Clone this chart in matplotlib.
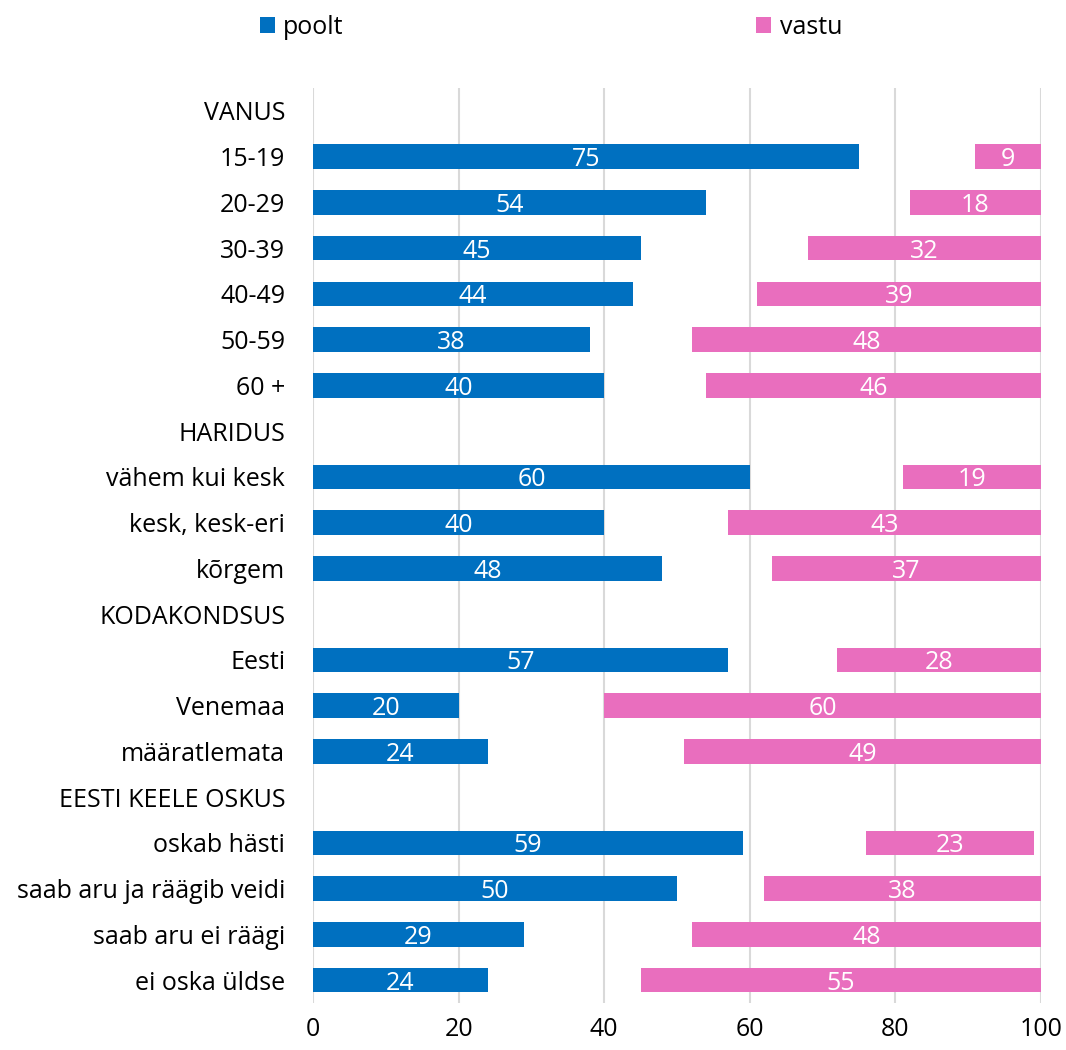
import matplotlib
matplotlib.use("Agg")
import matplotlib.pyplot as plt
import numpy as np

categories = ["VANUS", "15-19", "20-29", "30-39", "40-49", "50-59", "60 +",
              "HARIDUS", "vähem kui kesk", "kesk, kesk-eri", "kõrgem",
              "KODAKONDSUS", "Eesti", "Venemaa", "määratlemata",
              "EESTI KEELE OSKUS", "oskab hästi", "saab aru ja räägib veidi",
              "saab aru ei räägi", "ei oska üldse"]
poolt = [None, 75, 54, 45, 44, 38, 40, None, 60, 40, 48, None, 57, 20, 24,
         None, 59, 50, 29, 24]
# invisible middle series (undecided share)
muu = [None, 16, 28, 23, 17, 14, 14, None, 21, 17, 15, None, 15, 20, 27,
       None, 17, 12, 23, 21]
vastu = [None, 9, 18, 32, 39, 48, 46, None, 19, 43, 37, None, 28, 60, 49,
         None, 23, 38, 48, 55]
xticks = [0, 20, 40, 60, 80, 100]

BLUE = "#0070C0"
PINK = "#E96EBE"
FONT = "Open Sans"
FS = 18

fig = plt.figure(figsize=(10.66, 10.50), dpi=100)
ax = fig.add_axes([313/1066, 47/1050, 728/1066, 915/1050])

y = np.arange(len(categories))
p = np.array([np.nan if v is None else v for v in poolt], dtype=float)
m = np.array([np.nan if v is None else v for v in muu], dtype=float)
v = np.array([np.nan if v is None else v for v in vastu], dtype=float)
h = 0.54

bp = ax.barh(y, p, height=h, color=BLUE, label="poolt", zorder=3)
ax.barh(y, m, left=p, height=h, color="none", zorder=3)
bv = ax.barh(y, v, left=p + m, height=h, color=PINK, label="vastu", zorder=3)

for i in range(len(categories)):
    if not np.isnan(p[i]):
        ax.text(p[i] / 2, y[i], f"{int(p[i])}", ha="center", va="center_baseline",
                color="white", fontsize=FS, family=FONT, zorder=4)
        ax.text(p[i] + m[i] + v[i] / 2, y[i], f"{int(v[i])}", ha="center",
                va="center_baseline", color="white", fontsize=FS, family=FONT, zorder=4)

ax.set_xlim(0, 100)
ax.set_ylim(len(categories) - 0.5, -0.5)
ax.set_yticks(y)
ax.set_yticklabels(categories, fontsize=FS, family=FONT, va="center_baseline")
ax.set_xticks(xticks)
ax.set_xticklabels([str(t) for t in xticks], fontsize=FS, family=FONT)
ax.tick_params(axis="both", length=0, colors="black")
ax.tick_params(axis="y", pad=20)
ax.tick_params(axis="x", pad=10)
for s in ax.spines.values():
    s.set_visible(False)
ax.grid(axis="x", color="#D9D9D9", linewidth=1.5, zorder=0)
ax.set_axisbelow(True)

leg = fig.legend(handles=[bp, bv], labels=["poolt", "vastu"], loc="center",
                 bbox_to_anchor=(551/1066, 1 - 27/1050), ncol=2, frameon=False,
                 prop={"family": FONT, "size": FS}, handlelength=0.6,
                 handleheight=0.6, handletextpad=0.35, columnspacing=16.5)

fig.savefig("out.png", dpi=100)
